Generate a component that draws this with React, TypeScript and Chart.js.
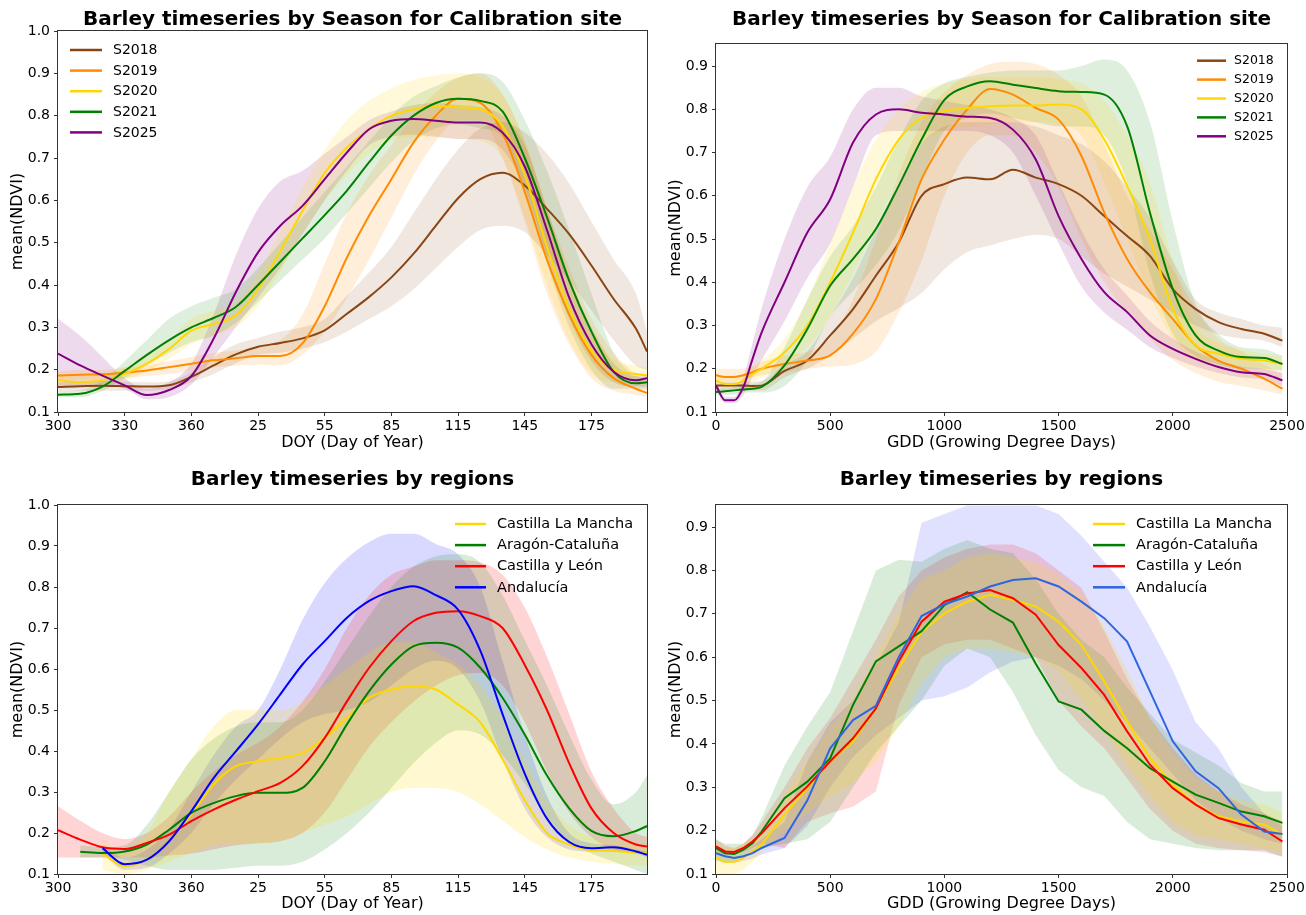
import React, { useEffect, useRef } from "react";
import { Chart, registerables } from "chart.js";

Chart.register(...registerables);

const FONT = "'DejaVu Sans', 'Liberation Sans', sans-serif";

// ---------- shared x positions ----------
const DOY_X = [300, 310, 320, 330, 340, 350, 360, 370, 380, 390, 400, 410, 420, 430, 440, 450, 460, 470, 480, 490, 500, 510, 520, 530, 540, 550, 560, 565];
const GDD_X = [0, 40, 80, 120, 160, 200, 300, 400, 500, 600, 700, 800, 900, 1000, 1100, 1200, 1300, 1400, 1500, 1600, 1700, 1800, 1900, 2000, 2100, 2200, 2300, 2400, 2480];

// ---------- chart 1 : seasons vs DOY ----------
const S2018_DOY = [0.159, 0.161, 0.162, 0.161, 0.160, 0.163, 0.183, 0.210, 0.236, 0.254, 0.263, 0.274, 0.293, 0.332, 0.372, 0.418, 0.474, 0.540, 0.605, 0.650, 0.665, 0.635, 0.580, 0.520, 0.446, 0.367, 0.297, 0.243];
const S2018_DOY_LO = [0.15, 0.15, 0.15, 0.15, 0.15, 0.155, 0.17, 0.19, 0.215, 0.235, 0.24, 0.25, 0.265, 0.29, 0.32, 0.35, 0.39, 0.44, 0.49, 0.53, 0.54, 0.525, 0.47, 0.41, 0.34, 0.27, 0.21, 0.2];
const S2018_DOY_HI = [0.17, 0.172, 0.173, 0.172, 0.17, 0.172, 0.195, 0.23, 0.26, 0.275, 0.29, 0.3, 0.32, 0.375, 0.43, 0.49, 0.57, 0.65, 0.72, 0.77, 0.785, 0.76, 0.71, 0.64, 0.55, 0.46, 0.38, 0.29];

const S2019_DOY = [0.186, 0.188, 0.189, 0.193, 0.198, 0.206, 0.214, 0.222, 0.227, 0.232, 0.232, 0.262, 0.35, 0.465, 0.564, 0.65, 0.737, 0.80, 0.84, 0.83, 0.76, 0.62, 0.46, 0.33, 0.235, 0.18, 0.155, 0.145];
const S2019_DOY_LO = [0.175, 0.176, 0.177, 0.18, 0.185, 0.19, 0.197, 0.205, 0.21, 0.212, 0.21, 0.235, 0.29, 0.37, 0.46, 0.56, 0.66, 0.74, 0.79, 0.79, 0.7, 0.55, 0.38, 0.26, 0.18, 0.15, 0.14, 0.135];
const S2019_DOY_HI = [0.197, 0.2, 0.2, 0.205, 0.21, 0.22, 0.23, 0.24, 0.245, 0.255, 0.27, 0.33, 0.45, 0.57, 0.66, 0.73, 0.8, 0.855, 0.89, 0.9, 0.85, 0.74, 0.58, 0.44, 0.32, 0.24, 0.19, 0.17];

const S2020_DOY = [0.175, 0.171, 0.175, 0.19, 0.214, 0.249, 0.292, 0.308, 0.328, 0.39, 0.48, 0.575, 0.665, 0.725, 0.768, 0.8, 0.815, 0.823, 0.82, 0.815, 0.776, 0.66, 0.49, 0.345, 0.245, 0.2, 0.19, 0.186];
const S2020_DOY_LO = [0.16, 0.16, 0.165, 0.175, 0.195, 0.225, 0.26, 0.28, 0.3, 0.35, 0.43, 0.52, 0.6, 0.66, 0.71, 0.74, 0.75, 0.75, 0.745, 0.74, 0.7, 0.56, 0.4, 0.27, 0.19, 0.17, 0.17, 0.17];
const S2020_DOY_HI = [0.19, 0.185, 0.19, 0.205, 0.235, 0.27, 0.32, 0.34, 0.36, 0.43, 0.53, 0.63, 0.72, 0.79, 0.835, 0.865, 0.885, 0.895, 0.9, 0.89, 0.85, 0.74, 0.58, 0.42, 0.3, 0.225, 0.21, 0.205];

const S2021_DOY = [0.141, 0.143, 0.16, 0.197, 0.235, 0.27, 0.3, 0.322, 0.348, 0.4, 0.455, 0.51, 0.565, 0.623, 0.69, 0.753, 0.8, 0.83, 0.84, 0.835, 0.81, 0.7, 0.56, 0.41, 0.29, 0.195, 0.168, 0.17];
const S2021_DOY_LO = [0.135, 0.135, 0.15, 0.18, 0.21, 0.24, 0.265, 0.28, 0.31, 0.36, 0.41, 0.46, 0.51, 0.57, 0.63, 0.69, 0.74, 0.77, 0.78, 0.77, 0.75, 0.62, 0.45, 0.3, 0.2, 0.155, 0.155, 0.155];
const S2021_DOY_HI = [0.15, 0.152, 0.175, 0.22, 0.27, 0.32, 0.35, 0.37, 0.39, 0.44, 0.5, 0.56, 0.62, 0.68, 0.74, 0.8, 0.845, 0.87, 0.89, 0.9, 0.88, 0.79, 0.67, 0.53, 0.38, 0.24, 0.185, 0.18];

const S2025_DOY = [0.238, 0.21, 0.186, 0.163, 0.14, 0.152, 0.185, 0.273, 0.383, 0.477, 0.54, 0.587, 0.65, 0.713, 0.768, 0.788, 0.792, 0.788, 0.784, 0.784, 0.76, 0.68, 0.53, 0.37, 0.26, 0.195, 0.175, 0.18];
const S2025_DOY_LO = [0.16, 0.16, 0.165, 0.155, 0.13, 0.135, 0.165, 0.23, 0.3, 0.37, 0.44, 0.52, 0.6, 0.67, 0.73, 0.75, 0.755, 0.75, 0.745, 0.745, 0.72, 0.63, 0.47, 0.32, 0.22, 0.17, 0.16, 0.16];
const S2025_DOY_HI = [0.32, 0.28, 0.23, 0.18, 0.155, 0.17, 0.215, 0.33, 0.47, 0.58, 0.645, 0.67, 0.71, 0.75, 0.79, 0.81, 0.825, 0.83, 0.825, 0.82, 0.8, 0.73, 0.58, 0.42, 0.3, 0.215, 0.185, 0.19];

// ---------- chart 2 : seasons vs GDD ----------
const S2018_GDD = [0.161, 0.161, 0.161, 0.161, 0.16, 0.161, 0.195, 0.219, 0.277, 0.338, 0.415, 0.492, 0.6, 0.627, 0.642, 0.638, 0.66, 0.642, 0.627, 0.6, 0.553, 0.507, 0.461, 0.384, 0.338, 0.308, 0.292, 0.281, 0.265];
const S2018_GDD_LO = [0.15, 0.15, 0.15, 0.15, 0.15, 0.15, 0.18, 0.2, 0.23, 0.27, 0.31, 0.34, 0.375, 0.43, 0.47, 0.485, 0.5, 0.51, 0.5, 0.46, 0.42, 0.39, 0.36, 0.33, 0.3, 0.28, 0.27, 0.265, 0.25];
const S2018_GDD_HI = [0.17, 0.17, 0.17, 0.17, 0.17, 0.172, 0.21, 0.24, 0.32, 0.41, 0.52, 0.62, 0.72, 0.76, 0.77, 0.77, 0.77, 0.76, 0.74, 0.72, 0.68, 0.62, 0.55, 0.45, 0.36, 0.33, 0.315, 0.3, 0.295];

const S2019_GDD = [0.185, 0.181, 0.181, 0.185, 0.192, 0.2, 0.211, 0.219, 0.231, 0.281, 0.361, 0.492, 0.638, 0.73, 0.8, 0.847, 0.834, 0.803, 0.776, 0.692, 0.561, 0.454, 0.377, 0.315, 0.254, 0.219, 0.2, 0.177, 0.154];
const S2019_GDD_LO = [0.175, 0.17, 0.17, 0.175, 0.18, 0.185, 0.19, 0.2, 0.205, 0.21, 0.24, 0.33, 0.45, 0.6, 0.7, 0.74, 0.74, 0.7, 0.62, 0.5, 0.4, 0.33, 0.27, 0.22, 0.19, 0.17, 0.16, 0.15, 0.14];
const S2019_GDD_HI = [0.2, 0.2, 0.2, 0.2, 0.205, 0.215, 0.23, 0.24, 0.27, 0.36, 0.5, 0.65, 0.77, 0.84, 0.88, 0.905, 0.91, 0.905, 0.88, 0.83, 0.72, 0.6, 0.52, 0.43, 0.34, 0.27, 0.24, 0.21, 0.19];

const S2020_GDD = [0.173, 0.165, 0.165, 0.173, 0.188, 0.2, 0.238, 0.3, 0.4, 0.515, 0.638, 0.73, 0.78, 0.796, 0.803, 0.807, 0.809, 0.809, 0.811, 0.8, 0.73, 0.623, 0.5, 0.338, 0.254, 0.235, 0.223, 0.219, 0.211];
const S2020_GDD_LO = [0.16, 0.155, 0.155, 0.16, 0.17, 0.18, 0.21, 0.25, 0.32, 0.42, 0.53, 0.64, 0.72, 0.75, 0.76, 0.765, 0.77, 0.77, 0.765, 0.74, 0.63, 0.5, 0.37, 0.27, 0.22, 0.21, 0.205, 0.2, 0.195];
const S2020_GDD_HI = [0.19, 0.18, 0.18, 0.19, 0.205, 0.22, 0.27, 0.36, 0.49, 0.62, 0.73, 0.8, 0.84, 0.86, 0.87, 0.875, 0.875, 0.875, 0.87, 0.86, 0.82, 0.74, 0.63, 0.45, 0.3, 0.26, 0.245, 0.235, 0.23];

const S2021_GDD = [0.146, 0.148, 0.15, 0.152, 0.154, 0.158, 0.208, 0.292, 0.392, 0.454, 0.523, 0.623, 0.73, 0.822, 0.853, 0.865, 0.857, 0.849, 0.842, 0.84, 0.834, 0.761, 0.561, 0.384, 0.277, 0.242, 0.227, 0.225, 0.211];
const S2021_GDD_LO = [0.14, 0.14, 0.14, 0.145, 0.145, 0.145, 0.16, 0.22, 0.32, 0.38, 0.44, 0.52, 0.64, 0.75, 0.78, 0.79, 0.78, 0.77, 0.76, 0.76, 0.74, 0.63, 0.42, 0.28, 0.23, 0.21, 0.2, 0.2, 0.195];
const S2021_GDD_HI = [0.155, 0.155, 0.158, 0.16, 0.165, 0.17, 0.25, 0.36, 0.46, 0.53, 0.62, 0.73, 0.82, 0.86, 0.875, 0.885, 0.89, 0.89, 0.89, 0.9, 0.915, 0.89, 0.77, 0.54, 0.35, 0.28, 0.25, 0.245, 0.23];

const S2025_GDD = [0.161, 0.127, 0.127, 0.158, 0.223, 0.284, 0.4, 0.515, 0.592, 0.723, 0.788, 0.8, 0.792, 0.788, 0.783, 0.78, 0.753, 0.684, 0.553, 0.454, 0.377, 0.331, 0.277, 0.246, 0.223, 0.204, 0.192, 0.188, 0.173];
const S2025_GDD_LO = [0.15, 0.12, 0.12, 0.14, 0.18, 0.22, 0.31, 0.41, 0.49, 0.62, 0.74, 0.75, 0.75, 0.75, 0.75, 0.74, 0.7, 0.6, 0.49, 0.39, 0.33, 0.29, 0.25, 0.225, 0.205, 0.19, 0.18, 0.175, 0.16];
const S2025_GDD_HI = [0.17, 0.135, 0.135, 0.18, 0.26, 0.34, 0.5, 0.62, 0.69, 0.8, 0.85, 0.85, 0.83, 0.82, 0.81, 0.8, 0.78, 0.74, 0.63, 0.52, 0.43, 0.37, 0.31, 0.27, 0.24, 0.22, 0.205, 0.2, 0.19];

// ---------- chart 3 : regions vs DOY ----------
const CLM_DOY = [null, null, 0.15, 0.119, 0.135, 0.18, 0.245, 0.318, 0.363, 0.375, 0.383, 0.395, 0.432, 0.481, 0.53, 0.55, 0.558, 0.55, 0.513, 0.47, 0.38, 0.28, 0.2, 0.172, 0.158, 0.156, 0.152, 0.15];
const CLM_DOY_LO = [null, null, 0.11, 0.1, 0.11, 0.13, 0.15, 0.17, 0.175, 0.175, 0.18, 0.2, 0.22, 0.24, 0.27, 0.3, 0.31, 0.31, 0.3, 0.27, 0.23, 0.19, 0.16, 0.14, 0.13, 0.125, 0.12, 0.12];
const CLM_DOY_HI = [null, null, 0.185, 0.15, 0.2, 0.3, 0.38, 0.46, 0.5, 0.5, 0.5, 0.52, 0.56, 0.6, 0.64, 0.665, 0.665, 0.64, 0.61, 0.56, 0.48, 0.38, 0.28, 0.22, 0.19, 0.18, 0.175, 0.17];

const ARA_DOY = [null, 0.154, 0.151, 0.155, 0.172, 0.208, 0.249, 0.273, 0.29, 0.298, 0.298, 0.31, 0.375, 0.465, 0.546, 0.611, 0.656, 0.664, 0.652, 0.603, 0.53, 0.44, 0.34, 0.26, 0.205, 0.192, 0.205, 0.217];
const ARA_DOY_LO = [null, 0.14, 0.14, 0.135, 0.12, 0.11, 0.11, 0.11, 0.115, 0.12, 0.12, 0.13, 0.16, 0.2, 0.25, 0.31, 0.37, 0.42, 0.45, 0.44, 0.39, 0.32, 0.24, 0.18, 0.15, 0.13, 0.11, 0.1];
const ARA_DOY_HI = [null, 0.17, 0.165, 0.17, 0.22, 0.3, 0.38, 0.43, 0.46, 0.47, 0.47, 0.5, 0.57, 0.65, 0.73, 0.8, 0.85, 0.875, 0.88, 0.86, 0.78, 0.67, 0.56, 0.44, 0.33, 0.27, 0.3, 0.34];

const CYL_DOY = [0.207, 0.184, 0.165, 0.161, 0.176, 0.196, 0.229, 0.257, 0.281, 0.302, 0.322, 0.363, 0.432, 0.521, 0.603, 0.668, 0.717, 0.737, 0.741, 0.729, 0.7, 0.61, 0.5, 0.37, 0.26, 0.2, 0.172, 0.167];
const CYL_DOY_LO = [0.14, 0.14, 0.14, 0.14, 0.14, 0.145, 0.15, 0.16, 0.17, 0.175, 0.18, 0.2, 0.25, 0.33, 0.41, 0.47, 0.52, 0.56, 0.585, 0.59, 0.56, 0.47, 0.35, 0.25, 0.19, 0.16, 0.15, 0.15];
const CYL_DOY_HI = [0.265, 0.23, 0.2, 0.185, 0.2, 0.24, 0.3, 0.35, 0.39, 0.42, 0.46, 0.52, 0.6, 0.7, 0.78, 0.83, 0.85, 0.865, 0.865, 0.86, 0.83, 0.75, 0.63, 0.49, 0.35, 0.26, 0.2, 0.19];

const AND_DOY = [null, null, 0.163, 0.124, 0.135, 0.18, 0.253, 0.334, 0.399, 0.465, 0.538, 0.611, 0.668, 0.725, 0.766, 0.79, 0.802, 0.78, 0.745, 0.645, 0.49, 0.345, 0.235, 0.178, 0.163, 0.165, 0.155, 0.147];
const AND_DOY_LO = [null, null, 0.15, 0.11, 0.115, 0.15, 0.2, 0.27, 0.33, 0.38, 0.43, 0.47, 0.49, 0.5, 0.52, 0.56, 0.6, 0.62, 0.6, 0.52, 0.38, 0.26, 0.19, 0.16, 0.155, 0.155, 0.15, 0.14];
const AND_DOY_HI = [null, null, 0.17, 0.14, 0.16, 0.21, 0.3, 0.39, 0.46, 0.5, 0.6, 0.72, 0.81, 0.87, 0.91, 0.93, 0.93, 0.905, 0.88, 0.8, 0.62, 0.44, 0.29, 0.2, 0.175, 0.17, 0.16, 0.155];

// ---------- chart 4 : regions vs GDD ----------
const CLM_GDD = [0.137, 0.128, 0.128, 0.137, 0.152, 0.168, 0.237, 0.298, 0.36, 0.406, 0.482, 0.575, 0.659, 0.701, 0.728, 0.744, 0.732, 0.717, 0.682, 0.628, 0.544, 0.452, 0.367, 0.306, 0.26, 0.233, 0.221, 0.214, 0.191];
const CLM_GDD_LO = [0.1, 0.1, 0.1, 0.11, 0.13, 0.15, 0.2, 0.24, 0.28, 0.31, 0.36, 0.44, 0.54, 0.6, 0.62, 0.62, 0.61, 0.6, 0.57, 0.5, 0.43, 0.35, 0.28, 0.22, 0.19, 0.18, 0.17, 0.16, 0.15];
const CLM_GDD_HI = [0.17, 0.16, 0.16, 0.17, 0.18, 0.2, 0.28, 0.36, 0.44, 0.5, 0.6, 0.7, 0.78, 0.8, 0.83, 0.84, 0.83, 0.82, 0.79, 0.75, 0.67, 0.57, 0.46, 0.38, 0.32, 0.29, 0.27, 0.26, 0.24];

const ARA_GDD = [0.16, 0.148, 0.146, 0.156, 0.171, 0.198, 0.275, 0.313, 0.367, 0.49, 0.59, 0.625, 0.66, 0.72, 0.75, 0.71, 0.68, 0.585, 0.498, 0.479, 0.43, 0.39, 0.344, 0.313, 0.283, 0.264, 0.244, 0.233, 0.218];
const ARA_GDD_LO = [0.14, 0.13, 0.13, 0.14, 0.15, 0.16, 0.17, 0.18, 0.22, 0.3, 0.38, 0.44, 0.5, 0.58, 0.62, 0.6, 0.52, 0.42, 0.34, 0.3, 0.28, 0.22, 0.18, 0.17, 0.16, 0.155, 0.155, 0.155, 0.14];
const ARA_GDD_HI = [0.18, 0.17, 0.17, 0.17, 0.19, 0.23, 0.35, 0.44, 0.52, 0.66, 0.8, 0.825, 0.82, 0.85, 0.87, 0.85, 0.84, 0.78, 0.7, 0.64, 0.6, 0.53, 0.47, 0.41, 0.38, 0.35, 0.31, 0.29, 0.29];

const CYL_GDD = [0.164, 0.152, 0.151, 0.16, 0.175, 0.194, 0.252, 0.302, 0.36, 0.413, 0.482, 0.59, 0.682, 0.728, 0.747, 0.755, 0.736, 0.698, 0.628, 0.575, 0.513, 0.429, 0.352, 0.298, 0.26, 0.229, 0.214, 0.202, 0.175];
const CYL_GDD_LO = [0.15, 0.145, 0.145, 0.15, 0.16, 0.17, 0.16, 0.22, 0.24, 0.255, 0.29, 0.49, 0.6, 0.63, 0.64, 0.64, 0.62, 0.6, 0.5, 0.44, 0.39, 0.32, 0.25, 0.2, 0.17, 0.16, 0.155, 0.15, 0.14];
const CYL_GDD_HI = [0.18, 0.165, 0.16, 0.17, 0.19, 0.22, 0.3, 0.39, 0.46, 0.55, 0.64, 0.74, 0.8, 0.83, 0.85, 0.86, 0.86, 0.84, 0.8, 0.76, 0.66, 0.55, 0.46, 0.39, 0.33, 0.29, 0.26, 0.24, 0.22];

const AND_GDD = [0.148, 0.141, 0.137, 0.141, 0.148, 0.16, 0.183, 0.27, 0.39, 0.455, 0.488, 0.6, 0.695, 0.722, 0.74, 0.763, 0.778, 0.782, 0.763, 0.728, 0.69, 0.636, 0.521, 0.406, 0.337, 0.298, 0.237, 0.198, 0.192];
const AND_GDD_LO = [0.13, 0.125, 0.125, 0.13, 0.135, 0.145, 0.16, 0.21, 0.3, 0.37, 0.42, 0.46, 0.5, 0.51, 0.53, 0.565, 0.59, 0.6, 0.58, 0.55, 0.5, 0.45, 0.39, 0.33, 0.27, 0.23, 0.2, 0.18, 0.17];
const AND_GDD_HI = [0.16, 0.155, 0.15, 0.155, 0.165, 0.18, 0.22, 0.36, 0.45, 0.5, 0.58, 0.68, 0.91, 0.93, 0.95, 0.95, 0.95, 0.95, 0.93, 0.88, 0.82, 0.76, 0.67, 0.57, 0.45, 0.39, 0.3, 0.24, 0.21];

// ---------- labels & colours ----------
const SEASON_LABELS = ["S2018", "S2019", "S2020", "S2021", "S2025"];
const SEASON_COLORS = ["#8B4513", "#FF8C00", "#FFD700", "#008000", "#800080"];
const SEASON_BANDS = ["rgba(139,69,19,0.13)", "rgba(255,140,0,0.15)", "rgba(255,215,0,0.15)", "rgba(0,128,0,0.13)", "rgba(128,0,128,0.14)"];
const REGION_LABELS = ["Castilla La Mancha", "Aragón-Cataluña", "Castilla y León", "Andalucía"];
const REGION_COLORS_DOY = ["#FFD700", "#008000", "#FF0000", "#0000FF"];
const REGION_COLORS_GDD = ["#FFD700", "#008000", "#FF0000", "#2F66E0"];
const REGION_BANDS = ["rgba(255,215,0,0.18)", "rgba(0,128,0,0.15)", "rgba(255,0,0,0.17)", "rgba(0,0,255,0.15)"];
const REGION_BANDS_GDD = ["rgba(255,215,0,0.18)", "rgba(0,128,0,0.15)", "rgba(255,0,0,0.15)", "rgba(0,0,255,0.12)"];

const TITLE_SEASON = "Barley timeseries by Season for Calibration site";
const TITLE_REGION = "Barley timeseries by regions";
const Y_TITLE = "mean(NDVI)";
const X_TITLE_DOY = "DOY (Day of Year)";
const X_TITLE_GDD = "GDD (Growing Degree Days)";

type Series = { label: string; color: string; band: string; mean: (number | null)[]; lo: (number | null)[]; hi: (number | null)[] };

const seasonDoy: Series[] = [
  [S2018_DOY, S2018_DOY_LO, S2018_DOY_HI],
  [S2019_DOY, S2019_DOY_LO, S2019_DOY_HI],
  [S2020_DOY, S2020_DOY_LO, S2020_DOY_HI],
  [S2021_DOY, S2021_DOY_LO, S2021_DOY_HI],
  [S2025_DOY, S2025_DOY_LO, S2025_DOY_HI],
].map((a, i) => ({ label: SEASON_LABELS[i], color: SEASON_COLORS[i], band: SEASON_BANDS[i], mean: a[0], lo: a[1], hi: a[2] }));

const seasonGdd: Series[] = [
  [S2018_GDD, S2018_GDD_LO, S2018_GDD_HI],
  [S2019_GDD, S2019_GDD_LO, S2019_GDD_HI],
  [S2020_GDD, S2020_GDD_LO, S2020_GDD_HI],
  [S2021_GDD, S2021_GDD_LO, S2021_GDD_HI],
  [S2025_GDD, S2025_GDD_LO, S2025_GDD_HI],
].map((a, i) => ({ label: SEASON_LABELS[i], color: SEASON_COLORS[i], band: SEASON_BANDS[i], mean: a[0], lo: a[1], hi: a[2] }));

const regionDoy: Series[] = [
  [CLM_DOY, CLM_DOY_LO, CLM_DOY_HI],
  [ARA_DOY, ARA_DOY_LO, ARA_DOY_HI],
  [CYL_DOY, CYL_DOY_LO, CYL_DOY_HI],
  [AND_DOY, AND_DOY_LO, AND_DOY_HI],
].map((a, i) => ({ label: REGION_LABELS[i], color: REGION_COLORS_DOY[i], band: REGION_BANDS[i], mean: a[0], lo: a[1], hi: a[2] }));

const regionGdd: Series[] = [
  [CLM_GDD, CLM_GDD_LO, CLM_GDD_HI],
  [ARA_GDD, ARA_GDD_LO, ARA_GDD_HI],
  [CYL_GDD, CYL_GDD_LO, CYL_GDD_HI],
  [AND_GDD, AND_GDD_LO, AND_GDD_HI],
].map((a, i) => ({ label: REGION_LABELS[i], color: REGION_COLORS_GDD[i], band: REGION_BANDS_GDD[i], mean: a[0], lo: a[1], hi: a[2] }));

type Spec = {
  left: number; top: number; w: number; h: number;
  padTop: number; padRight: number; yW: number; xH: number;
  xTitlePad: number; yTitlePad: number;
  xs: number[]; xMin: number; xMax: number; xStep: number; doy: boolean; smooth: boolean;
  yMax: number; series: Series[];
  title: string; titleY: number; xTitle: string;
  legend: { x1: number; x2: number; tx: number; y0: number; dy: number; size: number };
};

const SPECS: Spec[] = [
  {
    left: 0, top: 0, w: 653, h: 458, padTop: 31, padRight: 6, yW: 58, xH: 46, xTitlePad: 5.5, yTitlePad: 8.4,
    xs: DOY_X, xMin: 300, xMax: 565, xStep: 30, doy: true, smooth: true, yMax: 1.0, series: seasonDoy,
    title: TITLE_SEASON, titleY: 20, xTitle: X_TITLE_DOY,
    legend: { x1: 70, x2: 102, tx: 113, y0: 50, dy: 20.6, size: 14 },
  },
  {
    left: 653, top: 0, w: 653, h: 458, padTop: 44, padRight: 19, yW: 63, xH: 46, xTitlePad: 5.5, yTitlePad: 13.4,
    xs: GDD_X, xMin: 0, xMax: 2500, xStep: 500, doy: false, smooth: true, yMax: 0.951, series: seasonGdd,
    title: TITLE_SEASON, titleY: 20, xTitle: X_TITLE_GDD,
    legend: { x1: 544, x2: 573, tx: 581, y0: 60.7, dy: 18.9, size: 12.5 },
  },
  {
    left: 0, top: 458, w: 653, h: 457, padTop: 47, padRight: 6, yW: 58, xH: 41, xTitlePad: 1.4, yTitlePad: 8.4,
    xs: DOY_X, xMin: 300, xMax: 565, xStep: 30, doy: true, smooth: true, yMax: 1.0, series: regionDoy,
    title: TITLE_REGION, titleY: 22, xTitle: X_TITLE_DOY,
    legend: { x1: 455, x2: 486, tx: 497, y0: 66, dy: 21.1, size: 14.5 },
  },
  {
    left: 653, top: 458, w: 653, h: 457, padTop: 47, padRight: 19, yW: 63, xH: 41, xTitlePad: 1.4, yTitlePad: 13.4,
    xs: GDD_X, xMin: 0, xMax: 2500, xStep: 500, doy: false, smooth: false, yMax: 0.951, series: regionGdd,
    title: TITLE_REGION, titleY: 22, xTitle: X_TITLE_GDD,
    legend: { x1: 440, x2: 472, tx: 483, y0: 66, dy: 21.1, size: 14.5 },
  },
];

function pts(xs: number[], ys: (number | null)[]) {
  return xs.map((x, i) => ({ x, y: ys[i] }));
}

function makeDecor(spec: Spec) {
  return {
    id: "decor",
    afterDraw(chart: any) {
      const { ctx, chartArea: a } = chart;
      ctx.save();
      ctx.strokeStyle = "#333";
      ctx.lineWidth = 1;
      ctx.strokeRect(Math.round(a.left) - 0.5, Math.round(a.top) - 0.5, Math.round(a.right - a.left) + 1, Math.round(a.bottom - a.top) + 1);
      ctx.fillStyle = "#000";
      ctx.font = `bold 20px ${FONT}`;
      ctx.textAlign = "center";
      ctx.textBaseline = "middle";
      ctx.fillText(spec.title, (a.left + a.right) / 2, spec.titleY);
      const lg = spec.legend;
      spec.series.forEach((s, i) => {
        const y = lg.y0 + i * lg.dy;
        ctx.strokeStyle = s.color;
        ctx.lineWidth = 2.5;
        ctx.beginPath();
        ctx.moveTo(lg.x1, y);
        ctx.lineTo(lg.x2, y);
        ctx.stroke();
        ctx.fillStyle = "#000";
        ctx.font = `${lg.size}px ${FONT}`;
        ctx.textAlign = "left";
        ctx.textBaseline = "middle";
        ctx.fillText(s.label, lg.tx, y + 0.5);
      });
      ctx.restore();
    },
  };
}

function makeConfig(spec: Spec): any {
  const curve = spec.smooth ? { cubicInterpolationMode: "monotone" } : { tension: 0 };
  const datasets: any[] = [];
  spec.series.forEach((s) => {
    datasets.push({
      data: pts(spec.xs, s.lo), borderWidth: 0, borderColor: "rgba(0,0,0,0)", pointRadius: 0,
      fill: false, order: 100, ...curve,
    });
    datasets.push({
      data: pts(spec.xs, s.hi), borderWidth: 0, borderColor: "rgba(0,0,0,0)", pointRadius: 0,
      fill: "-1", backgroundColor: s.band, order: 100, ...curve,
    });
  });
  const n = spec.series.length;
  spec.series.forEach((s, i) => {
    datasets.push({
      label: s.label, data: pts(spec.xs, s.mean), borderColor: s.color, borderWidth: 2,
      pointRadius: 0, fill: false, order: n - i, ...curve,
    });
  });

  const tickFont = { family: FONT, size: 14 };
  const titleFont = { family: FONT, size: 16 };
  const grid = { display: true, drawOnChartArea: false, drawTicks: true, tickLength: 4, color: "#333", lineWidth: 1 };

  return {
    type: "line",
    data: { datasets },
    plugins: [makeDecor(spec)],
    options: {
      responsive: false,
      maintainAspectRatio: false,
      animation: false,
      events: [],
      layout: { padding: { top: spec.padTop, right: spec.padRight, bottom: 0, left: 0 } },
      plugins: {
        legend: { display: false },
        title: { display: false },
        tooltip: { enabled: false },
        filler: { propagate: false, drawTime: "beforeDatasetsDraw" },
      },
      scales: {
        x: {
          type: "linear", min: spec.xMin, max: spec.xMax,
          ticks: {
            stepSize: spec.xStep, includeBounds: false, autoSkip: false, maxRotation: 0, minRotation: 0,
            font: tickFont, color: "#000", padding: 2,
            callback: (v: number) => {
              const r = Math.round(v);
              return spec.doy ? String(r > 365 ? r - 365 : r) : String(r);
            },
          },
          grid, border: { display: false },
          title: { display: true, text: spec.xTitle, font: titleFont, color: "#000", padding: { top: 0, bottom: spec.xTitlePad } },
          afterFit: (s: any) => { s.height = spec.xH; s.paddingLeft = 0; s.paddingRight = 0; },
        },
        y: {
          type: "linear", min: 0.1, max: spec.yMax,
          ticks: {
            stepSize: 0.1, includeBounds: false, autoSkip: false,
            font: tickFont, color: "#000", padding: 4,
            callback: (v: number) => Number(v).toFixed(1),
          },
          grid, border: { display: false },
          title: { display: true, text: Y_TITLE, font: titleFont, color: "#000", padding: { top: spec.yTitlePad, bottom: 0 } },
          afterFit: (s: any) => { s.width = spec.yW; s.paddingTop = 0; s.paddingBottom = 0; },
        },
      },
    },
  };
}

function ChartBox({ spec }: { spec: Spec }) {
  const ref = useRef<HTMLCanvasElement | null>(null);
  useEffect(() => {
    if (!ref.current) return;
    const chart = new Chart(ref.current, makeConfig(spec));
    return () => chart.destroy();
  }, [spec]);
  return (
    <canvas
      ref={ref}
      width={spec.w}
      height={spec.h}
      style={{ position: "absolute", left: spec.left, top: spec.top, width: spec.w, height: spec.h }}
    />
  );
}

export default function App() {
  return (
    <div style={{ position: "absolute", left: 0, top: 0, width: 1306, height: 915, background: "#fff", overflow: "hidden" }}>
      {SPECS.map((s, i) => (
        <ChartBox key={i} spec={s} />
      ))}
    </div>
  );
}
